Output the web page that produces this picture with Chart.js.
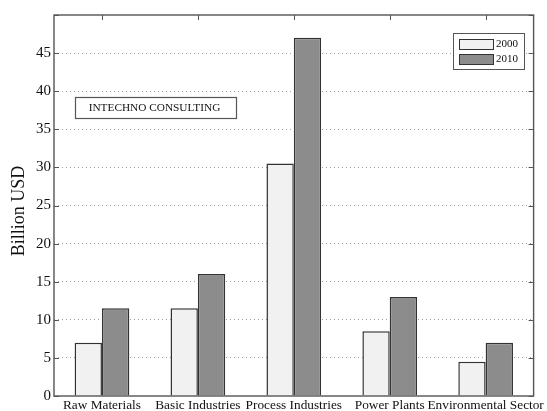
<!DOCTYPE html>
<html>
<head>
<meta charset="utf-8">
<script src="https://cdn.jsdelivr.net/npm/chart.js@4.4.0/dist/chart.umd.min.js"></script>
<style>
  html, body { margin: 0; padding: 0; background: #fff; }
  #wrap { width: 547px; height: 411px; }
</style>
</head>
<body>
<div id="wrap"><canvas id="c" width="547" height="411"></canvas></div>
<script>
const categories = ["Raw Materials", "Basic Industries", "Process Industries", "Power Plants", "Environmental Sector"];
const values2000 = [7, 11.5, 30.5, 8.5, 4.5];
const values2010 = [11.5, 16, 47, 13, 7];
const seriesNames = ["2000", "2010"];
const yTicks = [0, 5, 10, 15, 20, 25, 30, 35, 40, 45];
const yTitle = "Billion USD";
const noteText = "INTECHNO CONSULTING";

const FONT = "'Liberation Serif', 'Times New Roman', serif";
const fill2000 = "#f1f1f1";
const fill2010 = "#8c8c8c";
const edge = "#333333";

const framePlugin = {
  id: "frame",
  afterDatasetsDraw(chart) {
    const ctx = chart.ctx;
    const a = chart.chartArea;
    const y = chart.scales.y, x = chart.scales.x;
    ctx.save();
    ctx.strokeStyle = "#555";
    ctx.lineWidth = 1.4;
    ctx.strokeRect(a.left, a.top, a.right - a.left, a.bottom - a.top);
    // inward ticks
    ctx.lineWidth = 1;
    yTicks.concat([50]).forEach(v => {
      const py = Math.round(y.getPixelForValue(v)) + 0.5;
      ctx.beginPath();
      ctx.moveTo(a.left, py); ctx.lineTo(a.left + 5, py);
      ctx.moveTo(a.right, py); ctx.lineTo(a.right - 5, py);
      ctx.stroke();
    });
    categories.forEach((c, i) => {
      const px = Math.round(x.getPixelForValue(i)) + 0.5;
      ctx.beginPath();
      ctx.moveTo(px, a.top); ctx.lineTo(px, a.top + 5);
      ctx.stroke();
    });
    // y title
    ctx.save();
    ctx.translate(19, 211);
    ctx.rotate(-Math.PI / 2);
    ctx.fillStyle = "#111";
    ctx.font = "18px " + FONT;
    ctx.textAlign = "center";
    ctx.textBaseline = "middle";
    ctx.fillText(yTitle, 0, 0);
    ctx.restore();
    // note box
    ctx.fillStyle = "#fff";
    ctx.fillRect(75, 97, 161, 21);
    ctx.strokeStyle = "#555";
    ctx.lineWidth = 1.2;
    ctx.strokeRect(75.5, 97.5, 161, 21);
    ctx.fillStyle = "#111";
    ctx.font = "11.3px " + FONT;
    ctx.textAlign = "center";
    ctx.textBaseline = "middle";
    ctx.fillText(noteText, 154.5, 108.5);
    // legend
    ctx.fillStyle = "#fff";
    ctx.fillRect(453, 33, 71, 36);
    ctx.strokeStyle = "#555";
    ctx.lineWidth = 1;
    ctx.strokeRect(453.5, 33.5, 71, 36);
    const sw = [[fill2000, 39], [fill2010, 54]];
    sw.forEach((s, i) => {
      ctx.fillStyle = s[0];
      ctx.fillRect(459, s[1], 34, 10);
      ctx.strokeStyle = edge;
      ctx.strokeRect(459.5, s[1] + 0.5, 34, 10);
      ctx.fillStyle = "#111";
      ctx.font = "11px " + FONT;
      ctx.textAlign = "left";
      ctx.textBaseline = "middle";
      ctx.fillText(seriesNames[i], 496, s[1] + 5.5);
    });
    ctx.restore();
  }
};

new Chart(document.getElementById("c"), {
  type: "bar",
  data: {
    labels: categories,
    datasets: [
      { label: seriesNames[0], data: values2000, backgroundColor: fill2000, borderColor: edge, borderWidth: 1.5,
        categoryPercentage: 0.57, barPercentage: 1 },
      { label: seriesNames[1], data: values2010, backgroundColor: fill2010, borderColor: edge, borderWidth: 1.5,
        categoryPercentage: 0.57, barPercentage: 1 }
    ]
  },
  options: {
    responsive: false,
    devicePixelRatio: 1,
    animation: false,
    layout: { padding: { top: 15, right: 12, left: 0, bottom: 0 } },
    plugins: { legend: { display: false }, tooltip: { enabled: false } },
    scales: {
      x: {
        grid: { display: false, drawTicks: false },
        border: { display: false },
        ticks: { color: "#111", font: { family: FONT, size: 13.3 }, padding: 2, maxRotation: 0, autoSkip: false },
        afterFit(s) { s.height = 15; }
      },
      y: {
        min: 0, max: 50,
        afterBuildTicks(s) { s.ticks = yTicks.map(v => ({ value: v })); },
        grid: {
          drawTicks: false,
          color: c => (c.tick && c.tick.value > 0 && c.tick.value < 50) ? "#a0a0a0" : "transparent",
          lineWidth: 1
        },
        border: { display: false, dash: [1, 3] },
        ticks: { color: "#111", font: { family: FONT, size: 15 }, padding: 3 },
        title: { display: false },
        afterFit(s) { s.width = 54; }
      }
    }
  },
  plugins: [framePlugin]
});
</script>
</body>
</html>
